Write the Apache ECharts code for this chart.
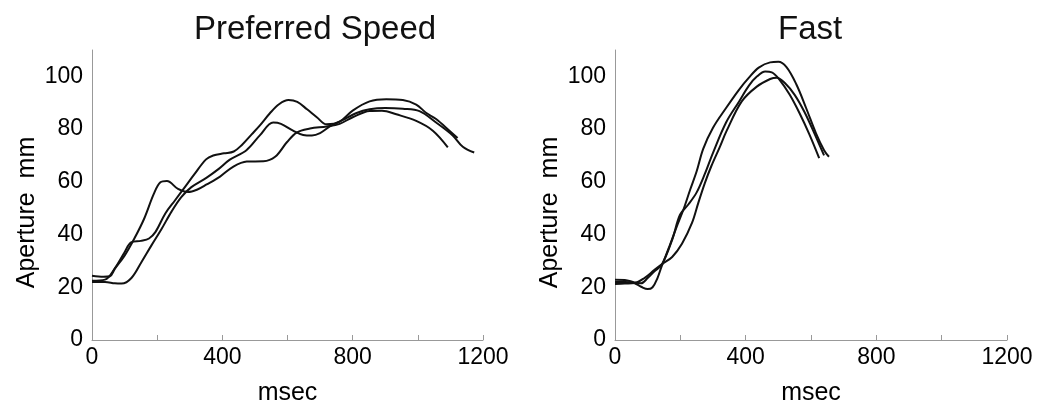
<!DOCTYPE html>
<html>
<head>
<meta charset="utf-8">
<script src="https://cdn.jsdelivr.net/npm/echarts@6/dist/echarts.min.js"></script>
<style>
html,body{margin:0;padding:0;background:#fff;}
#chart{width:1043px;height:411px;}
</style>
</head>
<body>
<div id="chart"></div>
<script>
// ---- Data (msec, aperture mm) ----
const panelTitles = ['Preferred Speed', 'Fast'];
const xTicks = [0, 400, 800, 1200];
const yTicks = [0, 20, 40, 60, 80, 100];

const prefTrial1 = [[0,22.5],[40,22.9],[70,27.2],[100,33.3],[120,37],[150,37.6],[175,38.5],[195,41],[225,48],[255,53],[285,58],[315,63],[350,68.5],[372,70],[405,70.8],[435,71.5],[460,74],[490,78],[516,81.5],[546,86],[575,89.5],[603,91],[630,90.3],[660,87.5],[690,84.5],[720,81.8],[760,82.8],[800,87],[852,90.5],[903,91.3],[954,91],[995,89.3],[1025,86.2],[1056,83.8],[1097,79.4],[1122,76.6]];
const prefTrial2 = [[0,22],[40,22],[70,21.5],[91,21.4],[121,23.5],[152,29.6],[182,35.8],[213,42],[244,48.7],[274,54.2],[305,58],[352,61.6],[390,65],[423,68.4],[474,72],[515,77.6],[556,82.5],[580,82],[617,79.4],[648,77.8],[675,77.6],[700,78.5],[730,81],[770,83.5],[810,86],[852,87.5],[900,88],[954,87.7],[1005,86.8],[1056,82.5],[1107,77.6],[1138,73.3],[1173,71.1]];
const prefTrial3 = [[0,24.4],[35,24],[55,24.2],[70,27],[100,32],[130,38.5],[160,46],[190,55.5],[210,59.8],[230,60.3],[264,57.3],[295,56.1],[322,57],[352,59],[393,62],[434,65.8],[475,67.7],[526,67.8],[562,69.5],[598,75],[628,78.7],[669,80.2],[720,81],[760,82],[800,84.5],[852,86.9],[890,87],[934,85.6],[995,83.1],[1046,79.4],[1092,73.1]];

const fastTrial1 = [[0,22],[30,22],[60,21.5],[80,20.2],[100,19.3],[115,20],[130,23.5],[143,28],[165,35],[189,43],[209,49.3],[230,57],[250,64],[270,72.5],[300,80.5],[340,88],[380,95],[410,99.5],[440,103.3],[475,105.3],[500,105.5],[525,103.5],[555,97],[585,88],[615,78.5],[640,72],[655,69.5]];
const fastTrial2 = [[0,22.9],[30,22.8],[60,21.8],[80,21.5],[100,23.5],[120,26],[143,28.5],[175,38],[199,47.5],[225,51.5],[250,56],[275,63],[300,71],[340,82.5],[380,90.5],[410,96.5],[435,100],[460,101.8],[480,101.5],[505,98.5],[535,93],[565,86],[595,78],[625,69]];
const fastTrial3 = [[0,21.2],[30,21.4],[60,21.6],[90,23.5],[120,26.5],[143,28.7],[175,31.5],[205,36.5],[236,44.5],[255,52],[275,59.5],[295,66],[320,73],[342,79.4],[388,90.5],[434,96.1],[475,99],[495,99.5],[520,97.5],[550,93],[580,86.5],[610,78.5],[640,70]];

const panels = [[prefTrial1, prefTrial2, prefTrial3], [fastTrial1, fastTrial2, fastTrial3]];

// ---- Chart ----
const FONT = '"Liberation Sans", Arial, Helvetica, sans-serif';
const chart = echarts.init(document.getElementById('chart'), null, {renderer: 'canvas'});

const grids = [
  {left: 92, top: 50, width: 391, height: 297},
  {left: 615, top: 50, width: 392, height: 297}
];

const xAxes = grids.map((g, i) => ({
  type: 'value', gridIndex: i, min: 0, max: 1200, interval: 200,
  name: 'msec', nameLocation: 'middle', nameGap: 41,
  nameTextStyle: {color: '#000', fontSize: 25, fontFamily: FONT},
  axisLine: {show: true, lineStyle: {color: '#999', width: 1}},
  axisTick: {show: true, inside: true, length: 5, lineStyle: {color: '#999'}},
  axisLabel: {color: '#000', fontSize: 23, fontFamily: FONT, margin: 6,
    formatter: v => xTicks.indexOf(v) >= 0 ? String(v) : ''},
  splitLine: {show: false}
}));

const yAxes = grids.map((g, i) => ({
  type: 'value', gridIndex: i, min: 0, max: 110, interval: 20,
  name: 'Aperture  mm', nameLocation: 'middle', nameGap: 52,
  nameTextStyle: {color: '#000', fontSize: 25, fontFamily: FONT, padding: [0, 0, 0, -35]},
  axisLine: {show: true, lineStyle: {color: '#999', width: 1}},
  axisTick: {show: false},
  axisLabel: {color: '#000', fontSize: 23, fontFamily: FONT, margin: 9, showMaxLabel: false,
    formatter: v => yTicks.indexOf(v) >= 0 ? String(v) : ''},
  splitLine: {show: false}
}));

const series = [];
panels.forEach((trials, i) => {
  trials.forEach(d => {
    series.push({
      type: 'line', xAxisIndex: i, yAxisIndex: i, data: d,
      smooth: 0.35, showSymbol: false, symbol: 'none',
      lineStyle: {color: '#111', width: 2}, silent: true
    });
  });
});

chart.setOption({
  animation: false,
  backgroundColor: '#fff',
  title: [
    {text: panelTitles[0], left: 189, top: 8, textStyle: {fontSize: 33, fontWeight: 'normal', color: '#111', fontFamily: FONT}},
    {text: panelTitles[1], left: 773, top: 8, textStyle: {fontSize: 33, fontWeight: 'normal', color: '#111', fontFamily: FONT}}
  ],
  grid: grids,
  xAxis: xAxes,
  yAxis: yAxes,
  series: series
});
</script>
</body>
</html>
